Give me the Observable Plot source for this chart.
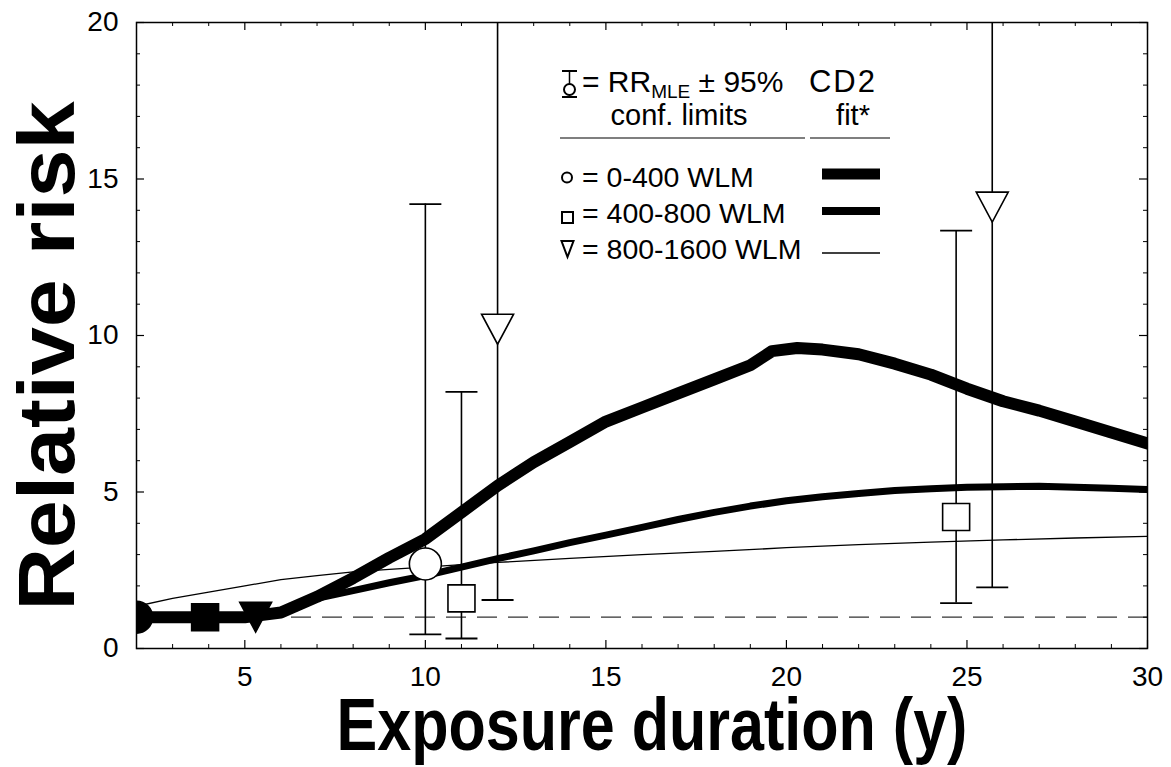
<!DOCTYPE html>
<html><head><meta charset="utf-8">
<script src="https://cdn.jsdelivr.net/npm/d3@7"></script>
<script src="https://cdn.jsdelivr.net/npm/@observablehq/plot@0.6"></script>
<style>body{margin:0;background:#fff;} #chart{width:1171px;height:767px;}</style>
</head><body><div id="chart"></div>
<script>
// ---------- data ----------
const xDomain = [2, 30];
const yDomain = [0, 20];
const xTickLabels = [5, 10, 15, 20, 25, 30];
const yTickLabels = [0, 5, 10, 15, 20];
const xMinorTicks = [3,4,6,7,8,9,11,12,13,14,16,17,18,19,21,22,23,24,26,27,28,29];
const yMinorTicks = [1,2,3,4,6,7,8,9,11,12,13,14,16,17,18,19];

const groups = ["0-400 WLM", "400-800 WLM", "800-1600 WLM"];

// CD2 fit curves
const fitDuration0_400 = [2,3,4,5,6,7,8,9,10,11,12,13,14,15,16,17,18,19,19.6,20.3,21,22,23,24,25,26,27,28,29,30];
const fitRR0_400       = [1,1,1,1,1.15,1.65,2.25,2.9,3.5,4.35,5.2,5.95,6.6,7.25,7.7,8.15,8.6,9.05,9.5,9.6,9.55,9.4,9.1,8.75,8.3,7.9,7.6,7.25,6.9,6.55];
const fitDuration400_800 = [2,3,4,5,6,7,8,9,10,11,12,13,14,15,16,17,18,19,20,21,22,23,24,25,26,27,28,29,30];
const fitRR400_800       = [1,1,1,1,1.2,1.6,1.85,2.1,2.33,2.6,2.87,3.12,3.38,3.62,3.87,4.12,4.35,4.55,4.72,4.85,4.95,5.05,5.1,5.15,5.17,5.18,5.15,5.12,5.08];
const fitDuration800_1600 = [2,3,4,5,6,7,8,9,10,11,12,14,16,18,20,22,24,26,28,30];
const fitRR800_1600       = [1.35,1.6,1.8,2.0,2.2,2.33,2.45,2.53,2.6,2.68,2.75,2.88,3.0,3.1,3.22,3.32,3.4,3.47,3.53,3.58];

// observed RR (MLE) with 95% limits
const obsDuration = [10, 11, 12, 24.7, 25.7];
const obsRR       = [2.7, 1.6, 10.2, 4.2, 14.1];
const obsLower    = [0.45, 0.32, 1.55, 1.45, 1.95];
const obsUpper    = [14.2, 8.2, 22, 13.35, 22];
const obsGroup    = [0, 1, 2, 1, 2];

// reference category points
const refDuration = [2, 3.9, 5.3];
const refRR       = [1, 1, 1];
const refGroup    = [0, 1, 2];

const baselineRR = [1];

// ---------- tables ----------
const obs = obsDuration.map((x, i) => ({x, rr: obsRR[i], lo: obsLower[i], hi: obsUpper[i], g: obsGroup[i]}));
const ref = refDuration.map((x, i) => ({x, rr: refRR[i], g: refGroup[i]}));
const mk = (xs, ys) => xs.map((x, i) => ({x, y: ys[i]}));
const fitA = mk(fitDuration0_400, fitRR0_400);
const fitB = mk(fitDuration400_800, fitRR400_800);
const fitC = mk(fitDuration800_1600, fitRR800_1600);

// ---------- symbols ----------
const circleSym = {draw(c) { c.moveTo(16, 0); c.arc(0, 0, 16, 0, 2 * Math.PI); c.closePath(); }};
const squareSym = {draw(c) { c.moveTo(-13.5, -13.5); c.lineTo(13.5, -13.5); c.lineTo(13.5, 13.5); c.lineTo(-13.5, 13.5); c.closePath(); }};
const triSym = {draw(c) { c.moveTo(-16, -15); c.lineTo(16, -15); c.lineTo(0, 15); c.closePath(); }};
const capSym = {draw(c) { c.moveTo(-16, 0); c.lineTo(16, 0); }};
const syms = [circleSym, squareSym, triSym];

const W = 1171, H = 767, mL = 136, mT = 22, mR = 24, mB = 119;
const fw = W - mL - mR, fh = H - mT - mB;
const major = 8, minor = 4;

const marks = [
  Plot.ruleY(baselineRR, {y: d => d, stroke: "#333", strokeWidth: 1.2, strokeDasharray: "20,11"}),
  Plot.ruleX(obs, {x: "x", y1: "lo", y2: "hi", stroke: "black", strokeWidth: 1.6, clip: true}),
  Plot.dot(obs, {x: "x", y: "lo", symbol: capSym, stroke: "black", fill: "none", strokeWidth: 1.8, clip: true}),
  Plot.dot(obs, {x: "x", y: "hi", symbol: capSym, stroke: "black", fill: "none", strokeWidth: 1.8, clip: true}),
  Plot.line(fitC, {x: "x", y: "y", stroke: "black", strokeWidth: 1.3, clip: true}),
  Plot.line(fitB, {x: "x", y: "y", stroke: "black", strokeWidth: 7, strokeLinejoin: "round", clip: true}),
  Plot.line(fitA, {x: "x", y: "y", stroke: "black", strokeWidth: 12, strokeLinejoin: "round", clip: true}),
];
syms.forEach((s, g) => {
  marks.push(Plot.dot(ref, {filter: d => d.g === g, x: "x", y: "rr", symbol: s, fill: "black", stroke: "black", clip: true}));
  marks.push(Plot.dot(obs, {filter: d => d.g === g, x: "x", y: "rr", symbol: s, fill: "white", stroke: "black", strokeWidth: 1.6, clip: true}));
});
marks.push(
  Plot.frame({stroke: "black", strokeWidth: 1.5}),
  Plot.tickX(xTickLabels, {x: d => d, insetTop: fh - major, strokeWidth: 1.2}),
  Plot.tickX(xMinorTicks, {x: d => d, insetTop: fh - minor, strokeWidth: 1}),
  Plot.tickX(xTickLabels, {x: d => d, insetBottom: fh - major, strokeWidth: 1.2}),
  Plot.tickX(xMinorTicks, {x: d => d, insetBottom: fh - minor, strokeWidth: 1}),
  Plot.tickY(yTickLabels, {y: d => d, insetRight: fw - major, strokeWidth: 1.2}),
  Plot.tickY(yMinorTicks, {y: d => d, insetRight: fw - minor, strokeWidth: 1}),
  Plot.tickY(yTickLabels, {y: d => d, insetLeft: fw - major, strokeWidth: 1.2}),
  Plot.tickY(yMinorTicks, {y: d => d, insetLeft: fw - minor, strokeWidth: 1}),
  Plot.axisX(xTickLabels, {tickSize: 0, tickPadding: 18, fontSize: 28, label: null}),
  Plot.axisY(yTickLabels, {tickSize: 0, tickPadding: 18, fontSize: 28, label: null})
);

const svgEl = Plot.plot({
  width: W, height: H,
  marginLeft: mL, marginTop: mT, marginRight: mR, marginBottom: mB,
  x: {domain: xDomain, label: null},
  y: {domain: yDomain, label: null},
  style: {fontFamily: "'Liberation Sans', Arial, Helvetica, sans-serif", color: "black", background: "white"},
  marks
});
document.getElementById("chart").appendChild(svgEl);

// ---------- titles & legend ----------
const svg = d3.select(svgEl);
const FF = "'Liberation Sans', Arial, Helvetica, sans-serif";
svg.append("text").attr("transform", "translate(74,356) rotate(-90) scale(1.08,1)")
  .attr("text-anchor", "middle").attr("font-family", FF).attr("font-weight", "bold")
  .attr("font-size", 80).attr("fill", "black").text("Relative risk");
svg.append("text").attr("transform", "translate(652,750) scale(0.825,1)")
  .attr("text-anchor", "middle").attr("font-family", FF).attr("font-weight", "bold")
  .attr("font-size", 74).attr("fill", "black").text("Exposure duration (y)");

const lg = svg.append("g").attr("font-family", FF).attr("fill", "black").attr("text-anchor", "start");
// error-bar glyph
lg.append("line").attr("x1", 569.5).attr("x2", 569.5).attr("y1", 71).attr("y2", 97).attr("stroke", "black").attr("stroke-width", 1.5);
lg.append("line").attr("x1", 562).attr("x2", 577).attr("y1", 71).attr("y2", 71).attr("stroke", "black").attr("stroke-width", 2);
lg.append("line").attr("x1", 562).attr("x2", 577).attr("y1", 97).attr("y2", 97).attr("stroke", "black").attr("stroke-width", 2);
lg.append("circle").attr("cx", 569.5).attr("cy", 89.5).attr("r", 5.5).attr("fill", "white").attr("stroke", "black").attr("stroke-width", 2);
const h1 = lg.append("text").attr("x", 582).attr("y", 92).attr("font-size", 30).attr("text-anchor", "start");
h1.append("tspan").text("= RR");
h1.append("tspan").attr("font-size", 19).attr("dy", 6).text("MLE");
h1.append("tspan").attr("dy", -6).text(" ± 95%");
lg.append("text").attr("x", 679).attr("y", 125).attr("font-size", 29).attr("text-anchor", "middle").text("conf. limits");
lg.append("text").attr("x", 843).attr("y", 92).attr("font-size", 31).attr("letter-spacing", 2).attr("text-anchor", "middle").text("CD2");
lg.append("text").attr("x", 853).attr("y", 125).attr("font-size", 29).attr("text-anchor", "middle").text("fit*");
lg.append("line").attr("x1", 560).attr("x2", 805).attr("y1", 138).attr("y2", 138).attr("stroke", "#555").attr("stroke-width", 1.5);
lg.append("line").attr("x1", 810).attr("x2", 890).attr("y1", 138).attr("y2", 138).attr("stroke", "#555").attr("stroke-width", 1.5);

const rowBase = [187, 223, 259];
const lineY = [174, 211, 253];
const lineW = [11, 8, 1.5];
groups.forEach((g, i) => {
  lg.append("text").attr("x", 582).attr("y", rowBase[i]).attr("font-size", 28.5).attr("text-anchor", "start").text("= " + g);
  lg.append("line").attr("x1", 822).attr("x2", 880).attr("y1", lineY[i]).attr("y2", lineY[i]).attr("stroke", "black").attr("stroke-width", lineW[i]);
});
lg.append("circle").attr("cx", 567).attr("cy", 177.5).attr("r", 5).attr("fill", "none").attr("stroke", "black").attr("stroke-width", 2);
lg.append("rect").attr("x", 562).attr("y", 212).attr("width", 11).attr("height", 11).attr("fill", "none").attr("stroke", "black").attr("stroke-width", 2);
lg.append("path").attr("d", "M561.5,241 L573.5,241 L567.5,257 Z").attr("fill", "none").attr("stroke", "black").attr("stroke-width", 2);
</script>
</body></html>
